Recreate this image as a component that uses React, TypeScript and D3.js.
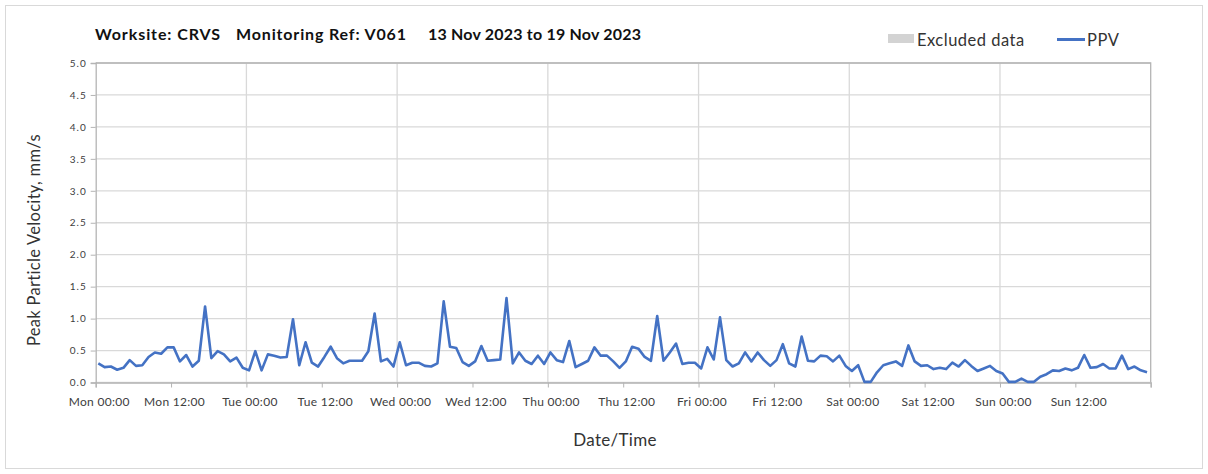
import { useEffect, useRef } from 'react';
import * as d3 from 'd3';

// hourly PPV readings, mm/s, one array per day
const monPPV = [0.30, 0.24, 0.25, 0.20, 0.23, 0.35, 0.26, 0.27, 0.40, 0.47, 0.45, 0.55, 0.55, 0.33, 0.43, 0.25, 0.34, 1.19, 0.38, 0.49, 0.44, 0.33, 0.39, 0.23];
const tuePPV = [0.19, 0.49, 0.19, 0.44, 0.42, 0.39, 0.40, 0.99, 0.27, 0.63, 0.31, 0.25, 0.40, 0.56, 0.38, 0.30, 0.34, 0.34, 0.34, 0.49, 1.08, 0.33, 0.37, 0.25];
const wedPPV = [0.63, 0.27, 0.31, 0.31, 0.26, 0.25, 0.30, 1.27, 0.56, 0.54, 0.32, 0.26, 0.33, 0.57, 0.34, 0.35, 0.36, 1.32, 0.30, 0.47, 0.34, 0.29, 0.42, 0.29];
const thuPPV = [0.47, 0.35, 0.32, 0.65, 0.24, 0.29, 0.34, 0.55, 0.42, 0.42, 0.33, 0.23, 0.33, 0.56, 0.53, 0.40, 0.34, 1.04, 0.34, 0.47, 0.61, 0.29, 0.31, 0.31];
const friPPV = [0.22, 0.55, 0.36, 1.02, 0.35, 0.25, 0.30, 0.47, 0.33, 0.47, 0.35, 0.26, 0.35, 0.60, 0.30, 0.25, 0.72, 0.34, 0.33, 0.42, 0.41, 0.33, 0.42, 0.26];
const satPPV = [0.18, 0.27, 0.01, 0.01, 0.16, 0.27, 0.30, 0.33, 0.26, 0.58, 0.33, 0.26, 0.27, 0.21, 0.23, 0.21, 0.31, 0.25, 0.35, 0.26, 0.18, 0.22, 0.26, 0.18];
const sunPPV = [0.14, 0.01, 0.01, 0.06, 0.01, 0.01, 0.09, 0.13, 0.19, 0.18, 0.22, 0.19, 0.23, 0.43, 0.23, 0.24, 0.29, 0.22, 0.22, 0.42, 0.21, 0.25, 0.19, 0.16];

const weekPPV = [...monPPV, ...tuePPV, ...wedPPV, ...thuPPV, ...friPPV, ...satPPV, ...sunPPV];

const weekStart = new Date(2023, 10, 13, 0, 0);
const weekEnd = new Date(2023, 10, 20, 0, 0);
const firstReading = new Date(2023, 10, 13, 0, 25);

const yTicks = [0, 0.5, 1, 1.5, 2, 2.5, 3, 3.5, 4, 4.5, 5];
const titleParts = ['Worksite: CRVS', 'Monitoring Ref: V061', '13 Nov 2023 to 19 Nov 2023'];

const WIDTH = 1208;
const HEIGHT = 474;
const margin = { top: 63, right: 57.3, bottom: 91.5, left: 95.7 };
const FONT = 'Lato, "Open Sans", sans-serif';
const LINE_COLOR = '#4472c4';

export default function App() {
  const svgRef = useRef<SVGSVGElement>(null);

  useEffect(() => {
    if (!svgRef.current) return;
    const svg = d3.select(svgRef.current);
    svg.selectAll('*').remove();

    const innerWidth = WIDTH - margin.left - margin.right;
    const innerHeight = HEIGHT - margin.top - margin.bottom;

    const x = d3.scaleTime().domain([weekStart, weekEnd]).range([0, innerWidth]);
    const y = d3.scaleLinear().domain([0, 5]).range([innerHeight, 0]);

    // outer frame
    svg.append('rect')
      .attr('x', 5.5).attr('y', 5.5)
      .attr('width', WIDTH - 11).attr('height', HEIGHT - 11)
      .attr('fill', '#fff')
      .attr('stroke', '#d9d9d9');

    // title, three pieces spaced like the original
    const titleX = [95, 236, 428];
    const titleW = [125, 170, 213];
    svg.selectAll('.title')
      .data(titleParts)
      .enter().append('text')
      .attr('class', 'title')
      .attr('x', (d, i) => titleX[i])
      .attr('y', 40)
      .attr('font-family', FONT)
      .attr('font-weight', 700)
      .attr('font-size', 16)
      .attr('textLength', (d, i) => titleW[i])
      .attr('lengthAdjust', 'spacing')
      .attr('fill', '#111')
      .text(d => d);

    // legend
    svg.append('rect')
      .attr('x', 888).attr('y', 34).attr('width', 26).attr('height', 9)
      .attr('fill', '#d3d3d3');
    svg.append('text')
      .attr('x', 917).attr('y', 45.5)
      .attr('font-family', FONT).attr('font-size', 16.5).attr('letter-spacing', 0.5).attr('fill', '#333')
      .text('Excluded data');
    svg.append('line')
      .attr('x1', 1057).attr('x2', 1085).attr('y1', 39.5).attr('y2', 39.5)
      .attr('stroke', LINE_COLOR).attr('stroke-width', 3);
    svg.append('text')
      .attr('x', 1087).attr('y', 45.5)
      .attr('font-family', FONT).attr('font-size', 16.5).attr('letter-spacing', 0.5).attr('fill', '#333')
      .text('PPV');

    const g = svg.append('g')
      .attr('transform', `translate(${margin.left},${margin.top})`);

    // horizontal grid
    g.selectAll('.hgrid')
      .data(yTicks)
      .enter().append('line')
      .attr('class', 'hgrid')
      .attr('x1', 0).attr('x2', innerWidth)
      .attr('y1', d => y(d)).attr('y2', d => y(d))
      .attr('stroke', '#d9d9d9').attr('stroke-width', 1.3);

    // vertical grid, one per day
    g.selectAll('.vgrid')
      .data(d3.timeDay.range(d3.timeDay.offset(weekStart, 1), weekEnd))
      .enter().append('line')
      .attr('class', 'vgrid')
      .attr('x1', d => x(d)).attr('x2', d => x(d))
      .attr('y1', 0).attr('y2', innerHeight)
      .attr('stroke', '#d9d9d9').attr('stroke-width', 1.3);

    // plot border (top + right)
    g.append('path')
      .attr('d', `M0,0H${innerWidth}V${innerHeight}`)
      .attr('fill', 'none')
      .attr('stroke', '#b4b4b4').attr('stroke-width', 1.3);

    // y axis
    const yAxis = g.append('g')
      .call(d3.axisLeft(y).tickValues(yTicks).tickFormat(d3.format('.1f')).tickSize(5).tickPadding(4));
    yAxis.select('.domain').attr('stroke', '#b4b4b4').attr('stroke-width', 1.3);
    yAxis.selectAll('.tick line').attr('stroke', '#b4b4b4');
    yAxis.selectAll('.tick text')
      .attr('font-family', FONT).attr('font-size', 10).attr('letter-spacing', 1)
      .attr('fill', '#404040');

    // x axis
    const fmt = d3.timeFormat('%a %H:%M');
    const xAxis = g.append('g')
      .attr('transform', `translate(0,${innerHeight})`)
      .call(d3.axisBottom(x)
        .ticks(d3.timeHour.every(12))
        .tickFormat(d => (+d >= +weekEnd ? '' : fmt(d as Date)))
        .tickSize(5).tickPadding(10));
    xAxis.select('.domain').attr('stroke', '#b4b4b4').attr('stroke-width', 1.3);
    xAxis.selectAll('.tick line').attr('stroke', '#b4b4b4');
    xAxis.selectAll('.tick text')
      .attr('font-family', FONT).attr('font-size', 12).attr('letter-spacing', 0.3).attr('dx', 3)
      .attr('fill', '#404040');

    // PPV line
    const line = d3.line<number>()
      .x((d, i) => x(d3.timeHour.offset(firstReading, i)))
      .y(d => y(d));
    g.append('path')
      .datum(weekPPV)
      .attr('fill', 'none')
      .attr('stroke', LINE_COLOR)
      .attr('stroke-width', 2.6)
      .attr('stroke-linejoin', 'round')
      .attr('d', line);

    // axis titles
    svg.append('text')
      .attr('transform', 'translate(40,240) rotate(-90)')
      .attr('text-anchor', 'middle')
      .attr('font-family', FONT).attr('font-size', 16.5).attr('letter-spacing', 0.3).attr('fill', '#333')
      .text('Peak Particle Velocity, mm/s');
    svg.append('text')
      .attr('x', 615).attr('y', 446)
      .attr('text-anchor', 'middle')
      .attr('font-family', FONT).attr('font-size', 17).attr('letter-spacing', 0.3).attr('fill', '#333')
      .text('Date/Time');
  }, []);

  return (
    <svg
      ref={svgRef}
      width={WIDTH}
      height={HEIGHT}
      style={{ position: 'absolute', left: 0, top: 0 }}
    />
  );
}
